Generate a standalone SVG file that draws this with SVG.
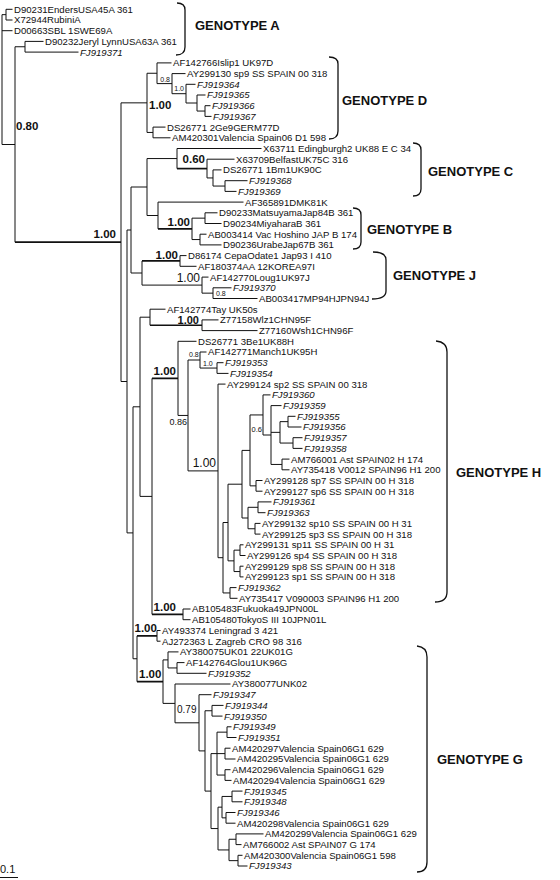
<svg xmlns="http://www.w3.org/2000/svg" width="560" height="880" viewBox="0 0 560 880">
<style>
text{font-family:"Liberation Sans",Arial,sans-serif;fill:#111}
.l{font-size:9.6px}
.i{font-style:italic}
.g{font-size:13px;font-weight:bold}
.b{font-size:11.5px;font-weight:bold}
.r{font-size:12px}
.s{font-size:7px}
.br path{fill:none;stroke:#111;stroke-width:1}
.br path.t{stroke-width:1.7}
.brace{fill:none;stroke:#111;stroke-width:1.3}
</style>
<rect width="560" height="880" fill="#fff"/>
<g id="connectors" class="br">
<path d="M2,14.65V144.5 M2,14.65H6 M2,30.7H12.5 M2,144.5H15"/>
<path d="M6,9.3V20 M6,9.3H12.5 M6,20H12.5"/>
<path d="M25,41.4V52.1 M25,41.4H43.5 M25,52.1H78.5"/>
<path d="M15,46.75V242.2 M15,46.75H25"/>
<path class="t" d="M15,242.2H121"/>
<path d="M121,102.85V381.5 M121,102.85H147 M121,381.5H127"/>
<path d="M147,73.25V132.45 M147,73.25H157 M147,132.45H153"/>
<path d="M157,62.9V83.6 M157,62.9H171.5 M157,83.6H172"/>
<path d="M172,73.6V93.7 M172,73.6H185.5 M172,93.7H186"/>
<path d="M186,84.3V103 M186,84.3H195.5 M186,103H197"/>
<path d="M197,95V111.05 M197,95H205.5 M197,111.05H205"/>
<path d="M205,105.7V116.4 M205,105.7H210.5 M205,116.4H211.5"/>
<path d="M153,127.1V137.8 M153,127.1H165.5 M153,137.8H170.5"/>
<path d="M127,230V532.9 M127,230H131 M127,532.9H133"/>
<path d="M131,187V273 M131,187H147 M131,273H142"/>
<path d="M147,158.55V215.5 M147,158.55H177 M147,215.5H158"/>
<path d="M177,148.5V168.6 M177,148.5H261.5"/>
<path class="t" d="M177,168.6H207"/>
<path d="M207,159.2V177.95 M207,159.2H234.5 M207,177.95H213"/>
<path d="M213,169.9V186.05 M213,169.9H221.5 M213,186.05H225"/>
<path d="M225,180.7V191.4 M225,180.7H247.5 M225,191.4H236.5"/>
<path d="M158,202.1V228.85 M158,202.1H243.5"/>
<path class="t" d="M158,228.85H192"/>
<path d="M192,218.15V239.55 M192,218.15H205 M192,239.55H200"/>
<path d="M205,212.8V223.5 M205,212.8H217.5 M205,223.5H221.5"/>
<path d="M200,234.2V244.9 M200,234.2H206.5 M200,244.9H221.5"/>
<path d="M142,260.95V285.1 M142,285.1H202"/>
<path class="t" d="M142,260.95H180"/>
<path d="M180,255.6V266.3 M180,255.6H186.5 M180,266.3H196.5"/>
<path d="M202,277.1V293.15 M202,277.1H208.5 M202,293.15H213"/>
<path d="M213,287.8V298.5 M213,287.8H231.5 M213,298.5H257.5"/>
<path d="M133,406.8V658.75 M133,406.8H140 M133,658.75H137"/>
<path d="M140,317.2V496.4 M140,317.2H150 M140,496.4H152"/>
<path d="M150,309.2V325.25 M150,309.2H165.5"/>
<path class="t" d="M150,325.25H202"/>
<path d="M202,319.9V330.6 M202,319.9H218.5 M202,330.6H257.5"/>
<path d="M152,378.4V614.35"/>
<path class="t" d="M152,378.4H178 M152,614.35H183"/>
<path d="M178,341.3V415.45 M178,341.3H196.5 M178,415.45H188"/>
<path d="M188,360V470.9 M188,360H200 M188,470.9H218"/>
<path d="M200,352V368.05 M200,352H206.5 M200,368.05H217"/>
<path d="M217,362.7V373.4 M217,362.7H223.5 M217,373.4H228.5"/>
<path d="M218,384.1V557.7 M218,384.1H225.5 M218,557.7H223"/>
<path d="M223,522.5V592.95 M223,522.5H228 M223,592.95H230"/>
<path d="M228,484.2V560.85 M228,484.2H242 M228,560.85H234"/>
<path d="M242,450.4V518 M242,450.4H250 M242,518H248"/>
<path d="M250,414.95V485.85 M250,414.95H263 M250,485.85H256"/>
<path d="M263,394.9V435 M263,394.9H270.5 M263,435H271"/>
<path d="M271,405.6V464.45 M271,405.6H281.5 M271,432.35H280 M271,464.45H282"/>
<path d="M280,421.65V443.05 M280,421.65H288 M280,443.05H293"/>
<path d="M288,416.3V427 M288,416.3H295.5 M288,427H301.5"/>
<path d="M293,437.7V448.4 M293,437.7H302.5 M293,448.4H302.5"/>
<path d="M282,459.1V469.8 M282,459.1H289.5 M282,469.8H289.5"/>
<path d="M256,480.5V491.2 M256,480.5H262.5 M256,491.2H262.5"/>
<path d="M248,507.3V528.75 M248,507.3H258 M248,528.75H255"/>
<path d="M258,501.9V512.7 M258,501.9H271.5 M258,512.7H265.5"/>
<path d="M255,523.4V534.1 M255,523.4H260.5 M255,534.1H260.5"/>
<path d="M234,550.15V571.55 M234,550.15H240 M234,571.55H240"/>
<path d="M240,544.8V555.5 M240,544.8H243.5 M240,555.5H245.5"/>
<path d="M240,566.2V576.9 M240,566.2H243.5 M240,576.9H243.5"/>
<path d="M230,587.6V598.3 M230,587.6H236.5 M230,598.3H237.5"/>
<path d="M183,609V619.7 M183,609H190.5 M183,619.7H190.5"/>
<path d="M137,635.85V681.65"/>
<path class="t" d="M137,635.85H157 M137,681.65H163"/>
<path d="M157,630.5V641.2 M157,630.5H160.5 M157,641.2H160.5"/>
<path d="M163,659.9V703.4 M163,659.9H168 M163,703.4H175"/>
<path d="M168,651.9V667.95 M168,651.9H178.5 M168,667.95H177"/>
<path d="M177,662.6V673.3 M177,662.6H184.5 M177,673.3H206.5"/>
<path d="M175,684V722.8 M175,684H230.5 M175,722.8H199"/>
<path d="M199,694.7V750.9 M199,694.7H211.5 M199,750.9H205"/>
<path d="M205,710.75V791.1 M205,710.75H212 M205,791.1H211"/>
<path d="M212,705.4V716.1 M212,705.4H223.5 M212,716.1H222.5"/>
<path d="M211,753.6V828.55 M211,753.6H217 M211,828.55H218"/>
<path d="M217,732.15V775.05 M217,732.15H227 M217,753.6H225 M217,775.05H225"/>
<path d="M227,726.8V737.5 M227,726.8H231.5 M227,737.5H236.5"/>
<path d="M225,748.2V759 M225,748.2H230.5 M225,759H235.5"/>
<path d="M225,769.7V780.4 M225,769.7H230.5 M225,780.4H231.5"/>
<path d="M218,807.15V849.95 M218,807.15H222 M218,849.95H229"/>
<path d="M222,796.45V817.85 M222,796.45H232 M222,817.85H226"/>
<path d="M232,791.1V801.8 M232,791.1H242.5 M232,801.8H242.5"/>
<path d="M226,812.5V823.2 M226,812.5H235.5 M226,823.2H235.5"/>
<path d="M229,839.25V860.65 M229,839.25H236 M229,860.65H238"/>
<path d="M236,833.9V844.6 M236,833.9H263.5 M236,844.6H241.5"/>
<path d="M238,855.3V866 M238,855.3H242.5 M238,866H247.5"/>
</g>
<g id="leaves" class="l">
<g id="n01"><text x="14" y="12.7">D90231EndersUSA45A 361</text></g>
<g id="n02"><text x="14" y="23.4">X72944RubiniA</text></g>
<g id="n03"><text x="14" y="34.1">D00663SBL 1SWE69A</text></g>
<g id="n04"><text x="45" y="44.8">D90232Jeryl LynnUSA63A 361</text></g>
<g id="n05"><text class="i" x="80" y="55.5">FJ919371</text></g>
<g id="n06"><text x="173" y="66.3">AF142766Islip1 UK97D</text></g>
<g id="n07"><text x="187" y="77">AY299130 sp9 SS SPAIN 00 318</text></g>
<g id="n08"><text class="i" x="197" y="87.7">FJ919364</text></g>
<g id="n09"><text class="i" x="207" y="98.4">FJ919365</text></g>
<g id="n10"><text class="i" x="212" y="109.1">FJ919366</text></g>
<g id="n11"><text class="i" x="213" y="119.8">FJ919367</text></g>
<g id="n12"><text x="167" y="130.5">DS26771 2Ge9GERM77D</text></g>
<g id="n13"><text x="172" y="141.2">AM420301Valencia Spain06 D1 598</text></g>
<g id="n14"><text x="263" y="151.9">X63711 Edingburgh2 UK88 E C 34</text></g>
<g id="n15"><text x="236" y="162.6">X63709BelfastUK75C 316</text></g>
<g id="n16"><text x="223" y="173.3">DS26771 1Bm1UK90C</text></g>
<g id="n17"><text class="i" x="249" y="184.1">FJ919368</text></g>
<g id="n18"><text class="i" x="238" y="194.8">FJ919369</text></g>
<g id="n19"><text x="245" y="205.5">AF365891DMK81K</text></g>
<g id="n20"><text x="219" y="216.2">D90233MatsuyamaJap84B 361</text></g>
<g id="n21"><text x="223" y="226.9">D90234MiyaharaB 361</text></g>
<g id="n22"><text x="208" y="237.6">AB003414 Vac Hoshino JAP B 174</text></g>
<g id="n23"><text x="223" y="248.3">D90236UrabeJap67B 361</text></g>
<g id="n24"><text x="188" y="259">D86174 CepaOdate1 Jap93 I 410</text></g>
<g id="n25"><text x="198" y="269.7">AF180374AA 12KOREA97I</text></g>
<g id="n26"><text x="210" y="280.5">AF142770Loug1UK97J</text></g>
<g id="n27"><text class="i" x="233" y="291.2">FJ919370</text></g>
<g id="n28"><text x="259" y="301.9">AB003417MP94HJPN94J</text></g>
<g id="n29"><text x="167" y="312.6">AF142774Tay UK50s</text></g>
<g id="n30"><text x="220" y="323.3">Z77158Wlz1CHN95F</text></g>
<g id="n31"><text x="259" y="334">Z77160Wsh1CHN96F</text></g>
<g id="n32"><text x="198" y="344.7">DS26771 3Be1UK88H</text></g>
<g id="n33"><text x="208" y="355.4">AF142771Manch1UK95H</text></g>
<g id="n34"><text class="i" x="225" y="366.1">FJ919353</text></g>
<g id="n35"><text class="i" x="230" y="376.8">FJ919354</text></g>
<g id="n36"><text x="227" y="387.5">AY299124 sp2 SS SPAIN 00 318</text></g>
<g id="n37"><text class="i" x="272" y="398.3">FJ919360</text></g>
<g id="n38"><text class="i" x="283" y="409">FJ919359</text></g>
<g id="n39"><text class="i" x="297" y="419.7">FJ919355</text></g>
<g id="n40"><text class="i" x="303" y="430.4">FJ919356</text></g>
<g id="n41"><text class="i" x="304" y="441.1">FJ919357</text></g>
<g id="n42"><text class="i" x="304" y="451.8">FJ919358</text></g>
<g id="n43"><text x="291" y="462.5">AM766001 Ast SPAIN02 H 174</text></g>
<g id="n44"><text x="291" y="473.2">AY735418 V0012 SPAIN96 H1 200</text></g>
<g id="n45"><text x="264" y="483.9">AY299128 sp7 SS SPAIN 00 H 318</text></g>
<g id="n46"><text x="264" y="494.6">AY299127 sp6 SS SPAIN 00 H 318</text></g>
<g id="n47"><text class="i" x="273" y="505.3">FJ919361</text></g>
<g id="n48"><text class="i" x="267" y="516.1">FJ919363</text></g>
<g id="n49"><text x="262" y="526.8">AY299132 sp10 SS SPAIN 00 H 31</text></g>
<g id="n50"><text x="262" y="537.5">AY299125 sp3 SS SPAIN 00 H 318</text></g>
<g id="n51"><text x="245" y="548.2">AY299131 sp11 SS SPAIN 00 H 31</text></g>
<g id="n52"><text x="247" y="558.9">AY299126 sp4 SS SPAIN 00 H 318</text></g>
<g id="n53"><text x="245" y="569.6">AY299129 sp8 SS SPAIN 00 H 318</text></g>
<g id="n54"><text x="245" y="580.3">AY299123 sp1 SS SPAIN 00 H 318</text></g>
<g id="n55"><text class="i" x="238" y="591">FJ919362</text></g>
<g id="n56"><text x="239" y="601.7">AY735417 V090003 SPAIN96 H1 200</text></g>
<g id="n57"><text x="192" y="612.4">AB105483Fukuoka49JPN00L</text></g>
<g id="n58"><text x="192" y="623.1">AB105480TokyoS III 10JPN01L</text></g>
<g id="n59"><text x="162" y="633.9">AY493374 Leningrad 3 421</text></g>
<g id="n60"><text x="162" y="644.6">AJ272363 L Zagreb CRO 98 316</text></g>
<g id="n61"><text x="180" y="655.3">AY380075UK01 22UK01G</text></g>
<g id="n62"><text x="186" y="666">AF142764Glou1UK96G</text></g>
<g id="n63"><text class="i" x="208" y="676.7">FJ919352</text></g>
<g id="n64"><text x="232" y="687.4">AY380077UNK02</text></g>
<g id="n65"><text class="i" x="213" y="698.1">FJ919347</text></g>
<g id="n66"><text class="i" x="225" y="708.8">FJ919344</text></g>
<g id="n67"><text class="i" x="224" y="719.5">FJ919350</text></g>
<g id="n68"><text class="i" x="233" y="730.2">FJ919349</text></g>
<g id="n69"><text class="i" x="238" y="740.9">FJ919351</text></g>
<g id="n70"><text x="232" y="751.6">AM420297Valencia Spain06G1 629</text></g>
<g id="n71"><text x="237" y="762.4">AM420295Valencia Spain06G1 629</text></g>
<g id="n72"><text x="232" y="773.1">AM420296Valencia Spain06G1 629</text></g>
<g id="n73"><text x="233" y="783.8">AM420294Valencia Spain06G1 629</text></g>
<g id="n74"><text class="i" x="244" y="794.5">FJ919345</text></g>
<g id="n75"><text class="i" x="244" y="805.2">FJ919348</text></g>
<g id="n76"><text class="i" x="237" y="815.9">FJ919346</text></g>
<g id="n77"><text x="237" y="826.6">AM420298Valencia Spain06G1 629</text></g>
<g id="n78"><text x="265" y="837.3">AM420299Valencia Spain06G1 629</text></g>
<g id="n79"><text x="243" y="848">AM766002 Ast SPAIN07 G 174</text></g>
<g id="n80"><text x="244" y="858.7">AM420300Valencia Spain06G1 598</text></g>
<g id="n81"><text class="i" x="249" y="869.4">FJ919343</text></g>
</g>
<g id="support">
<text class="b" x="16" y="130">0.80</text>
<text class="b" x="149" y="109">1.00</text>
<text class="b" x="205" y="163" text-anchor="end">0.60</text>
<text class="b" x="190" y="226" text-anchor="end">1.00</text>
<text class="b" x="116" y="238" text-anchor="end">1.00</text>
<text class="b" x="178" y="259" text-anchor="end">1.00</text>
<text class="r" x="200" y="282" text-anchor="end">1.00</text>
<text class="b" x="199" y="324" text-anchor="end" style="font-size:11px">1.00</text>
<text class="b" x="176" y="375" text-anchor="end">1.00</text>
<text class="r" x="216" y="467" text-anchor="end">1.00</text>
<text class="b" x="176" y="611" text-anchor="end">1.00</text>
<text class="b" x="134.5" y="632">1.00</text>
<text class="b" x="139" y="678">1.00</text>
<text class="s" x="170" y="82" text-anchor="end">0.8</text>
<text class="s" x="184" y="91" text-anchor="end">1.0</text>
<text class="s" x="216" y="296">0.8</text>
<text class="s" x="189" y="357">0.8</text>
<text class="s" x="203" y="366">1.0</text>
<text x="169.5" y="425" style="font-size:9px">0.86</text>
<text x="262" y="432" text-anchor="end" style="font-size:7.5px">0.6</text>
<text x="177" y="713" style="font-size:10px">0.79</text>
</g>
<g id="genotypes">
<g id="genotype-A"><path class="brace" d="M177,3 Q185,3 185,10 L185,47 Q185,55 176,55"/><text class="g" x="195" y="30">GENOTYPE A</text></g>
<g id="genotype-D"><path class="brace" d="M329,57 Q338,57 338,64 L338,131 Q338,139 329,139"/><text class="g" x="342" y="105">GENOTYPE D</text></g>
<g id="genotype-C"><path class="brace" d="M413,143 Q421,143 421,150 L421,189 Q421,196 413,196"/><text class="g" x="428" y="176">GENOTYPE C</text></g>
<g id="genotype-B"><path class="brace" d="M353,208 Q361,208 361,215 L361,242 Q361,249 353,249"/><text class="g" x="367" y="234">GENOTYPE B</text></g>
<g id="genotype-J"><path class="brace" d="M373,252 Q386,252 386,260 L386,291 Q386,299 372,299"/><text class="g" x="393" y="280">GENOTYPE J</text></g>
<g id="genotype-H"><path class="brace" d="M436,341 Q447,342 447,352 L447,592 Q447,602 435,602"/><text class="g" x="456" y="477">GENOTYPE H</text></g>
<g id="genotype-G"><path class="brace" d="M417,646 Q427,647 427,657 L427,862 Q427,872 417,872"/><text class="g" x="437" y="764">GENOTYPE G</text></g>
</g>
<g id="scale">
<text x="0" y="873" style="font-size:11px">0.1</text>
<path d="M0,877.5H18" stroke="#111" stroke-width="1"/>
</g>
</svg>
